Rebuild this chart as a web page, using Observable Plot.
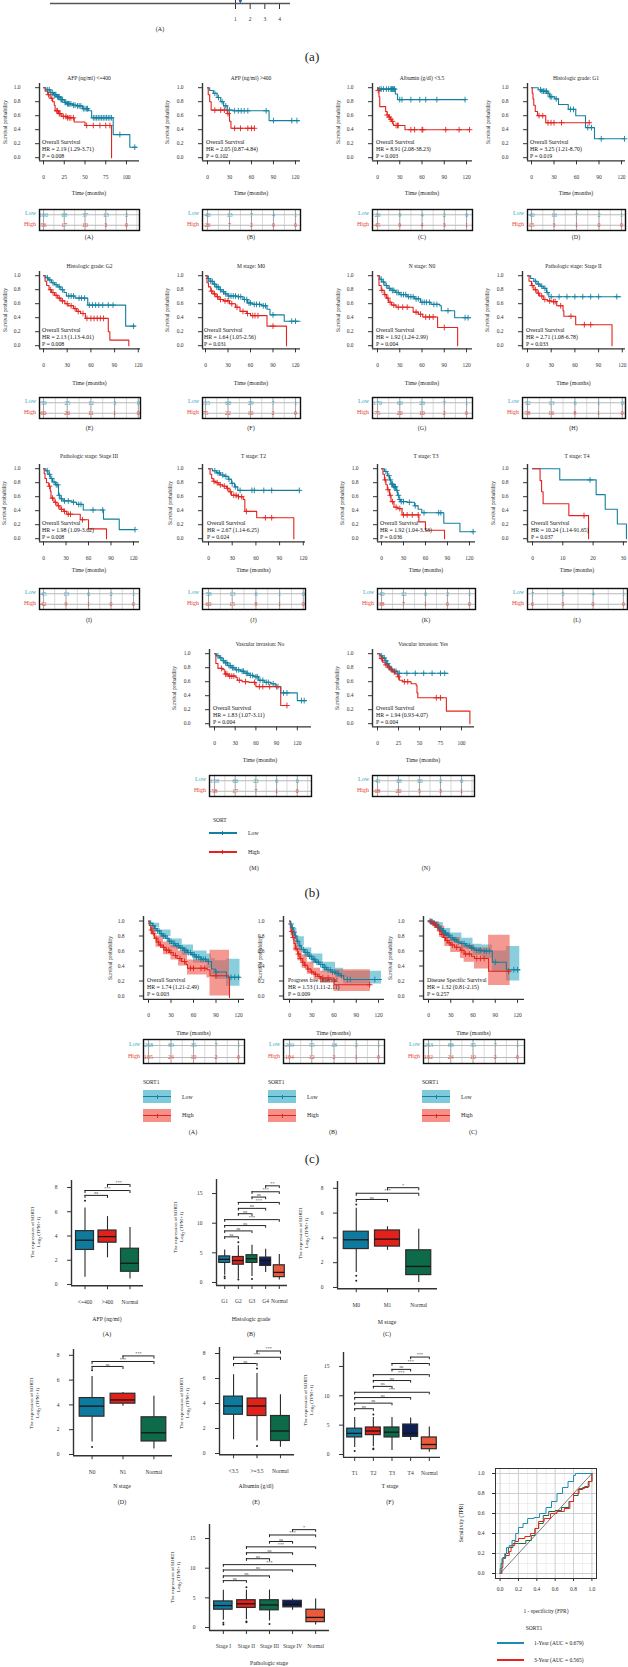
<!DOCTYPE html>
<html><head><meta charset="utf-8">
<script src="https://cdn.jsdelivr.net/npm/d3@7"></script>
<script src="https://cdn.jsdelivr.net/npm/@observablehq/plot@0.6"></script>
<style>
html,body{margin:0;padding:0;background:#fff;}
#root{position:relative;width:628px;height:1667px;overflow:hidden;background:#fff;font-family:"Liberation Serif","Times New Roman",serif;color:#222;}
#root svg{overflow:visible;}
</style></head><body><div id="root"></div>
<script>
// ================= DATA =================
// (a) remnant of forest plot axis
const a_ticks = [1, 2, 3, 4];
const a_est = [[1.33, 1]];

const tick25 = [0, 25, 50, 75, 100];
const tick30 = [0, 30, 60, 90, 120];
const tick10 = [0, 10, 20, 30];

// (b) Kaplan-Meier subgroup panels: [time, survival] steps, censor times, risk tables
const bA_low = [[0,1],[3,0.97],[8,0.93],[12,0.9],[16,0.87],[20,0.83],[25,0.79],[28,0.77],[35,0.75],[40,0.74],[47,0.7],[54,0.67],[58,0.57],[84,0.33],[104,0.15],[112,0.15]];
const bA_high = [[0,1],[2,0.95],[5,0.9],[8,0.85],[11,0.8],[13,0.75],[14,0.67],[18,0.63],[22,0.59],[28,0.57],[37,0.51],[50,0.46],[82,0]];
const bA_lowC = [5,7,9,11,13,14,15,17,18,19,21,22,23,26,27,29,30,31,33,36,38,41,43,45,48,50,52,53,60,62,64,66,68,70,72,74,76,78,80,82,92,110];
const bA_highC = [6,10,16,17,19,20,24,27,29,31,33,36,52,60,68,75,80];
const bA_riskLow = [160,68,37,13,2], bA_riskHigh = [56,17,10,3,0];

const bB_low = [[0,1],[3,0.96],[8,0.92],[13,0.86],[18,0.8],[22,0.74],[27,0.68],[35,0.67],[84,0.53],[125,0.53]];
const bB_high = [[0,1],[1,0.9],[3,0.8],[5,0.68],[27,0.63],[30,0.52],[32,0.42],[64,0.42]];
const bB_lowC = [10,15,20,25,30,37,42,46,50,55,80,90,115,122];
const bB_highC = [10,18,23,28,37,45,55,60,64];
const bB_riskLow = [40,13,7,4,1], bB_riskHigh = [26,7,2,0,0];

const bC_low = [[0,1],[1,0.98],[24,0.91],[27,0.83],[119,0.83]];
const bC_high = [[0,1],[0.5,0.96],[2,0.87],[3,0.73],[11,0.66],[13,0.61],[15,0.58],[17,0.55],[19,0.52],[21,0.48],[22,0.46],[37,0.4],[124,0.4]];
const bC_lowC = [3,5,8,12,15,18,19,20,21,22,23,30,33,45,57,65,80,118];
const bC_highC = [1,13,16,18,20,25,27,28,45,50,60,61,92,110,124];
const bC_riskLow = [26,9,4,2,0], bC_riskHigh = [45,9,4,3,1];

const bD_low = [[0,1],[9,0.97],[13,0.95],[22,0.92],[24,0.87],[31,0.84],[36,0.76],[49,0.69],[59,0.6],[72,0.43],[84,0.27],[124,0.27]];
const bD_high = [[0,1],[1,0.92],[2,0.84],[3,0.75],[5,0.66],[8,0.6],[19,0.5],[77,0.5]];
const bD_lowC = [12,14,16,18,20,22,25,27,33,52,56,75,80,93,124];
const bD_highC = [10,15,22,26,30,40,77];
const bD_riskLow = [40,16,7,2,1], bD_riskHigh = [15,3,1,0,0];

const bE_low = [[0,1],[3,0.97],[6,0.94],[10,0.9],[14,0.87],[18,0.84],[22,0.8],[26,0.76],[29,0.71],[40,0.68],[56,0.58],[104,0.28],[116,0.28]];
const bE_high = [[0,1],[2,0.92],[4,0.86],[7,0.8],[10,0.76],[14,0.72],[18,0.68],[22,0.64],[27,0.6],[31,0.57],[38,0.53],[42,0.49],[47,0.46],[53,0.39],[82,0.2],[84,0.08],[108,0]];
const bE_lowC = [5,8,12,16,20,24,32,35,38,45,48,52,58,62,66,70,75,82,88,114];
const bE_highC = [9,12,16,20,24,30,35,40,44,50,55,60,64,68,72,76];
const bE_riskLow = [59,25,12,3,0], bE_riskHigh = [60,26,11,1,0];

const bF_low = [[0,1],[3,0.96],[6,0.92],[10,0.88],[14,0.84],[18,0.8],[22,0.77],[26,0.74],[30,0.71],[42,0.7],[50,0.66],[56,0.61],[63,0.59],[75,0.57],[82,0.52],[86,0.44],[105,0.35],[126,0.35]];
const bF_high = [[0,1],[2,0.9],[4,0.84],[7,0.78],[10,0.74],[14,0.7],[18,0.66],[24,0.64],[32,0.6],[40,0.55],[46,0.49],[55,0.46],[60,0.43],[82,0.28],[108,0]];
const bF_lowC = [4,7,9,12,15,17,20,24,27,31,34,37,40,44,47,52,55,58,60,65,68,72,77,80,90,115,120];
const bF_highC = [8,12,16,20,26,30,35,42,50,56,63,66,70,90];
const bF_riskLow = [155,68,29,7,1], bF_riskHigh = [75,22,10,2,0];

const bG_low = [[0,1],[3,0.95],[6,0.91],[10,0.86],[14,0.82],[18,0.79],[24,0.76],[30,0.73],[40,0.7],[50,0.67],[58,0.62],[72,0.59],[84,0.57],[86,0.5],[104,0.4],[125,0.4]];
const bG_high = [[0,1],[2,0.86],[5,0.79],[9,0.73],[12,0.68],[15,0.62],[19,0.58],[25,0.55],[48,0.48],[55,0.45],[61,0.41],[81,0.26],[108,0]];
const bG_lowC = [5,8,12,16,20,22,26,28,32,35,38,42,45,48,52,55,60,63,66,70,76,80,95,118,122];
const bG_highC = [6,10,14,17,22,28,34,40,52,58,65,70,75,90];
const bG_riskLow = [170,60,26,7,1], bG_riskHigh = [75,20,10,2,0];

const bH_low = [[0,1],[4,0.96],[8,0.92],[12,0.88],[16,0.85],[20,0.82],[24,0.76],[27,0.7],[118,0.7]];
const bH_high = [[0,1],[2,0.92],[5,0.86],[8,0.8],[12,0.75],[15,0.71],[20,0.66],[25,0.64],[30,0.63],[37,0.57],[45,0.5],[46,0.42],[61,0.3],[107,0]];
const bH_lowC = [10,14,18,22,25,30,40,50,60,70,80,90,113];
const bH_highC = [6,10,14,18,22,28,33,35,42,55,72,80];
const bH_riskLow = [32,13,6,1,0], bH_riskHigh = [58,16,8,1,0];

const bI_low = [[0,1],[3,0.97],[6,0.92],[9,0.86],[12,0.81],[16,0.77],[20,0.62],[22,0.57],[26,0.54],[38,0.52],[44,0.49],[53,0.41],[80,0.28],[101,0.13],[122,0.13]];
const bI_high = [[0,1],[1,0.93],[2,0.86],[4,0.8],[7,0.75],[9,0.68],[10,0.58],[14,0.52],[18,0.47],[22,0.42],[27,0.39],[31,0.35],[49,0.27],[60,0.14],[84,0]];
const bI_lowC = [5,8,11,14,17,19,21,24,28,33,40,47,50,66,79,122];
const bI_highC = [8,12,16,20,24,28,33,36,52];
const bI_riskLow = [45,13,6,2,1], bI_riskHigh = [42,9,1,0,0];

const bJ_low = [[0,1],[5,0.97],[10,0.94],[15,0.91],[20,0.89],[25,0.85],[29,0.79],[33,0.74],[37,0.69],[115,0.69]];
const bJ_high = [[0,1],[2,0.92],[4,0.86],[6,0.82],[9,0.8],[13,0.77],[18,0.75],[23,0.72],[26,0.67],[29,0.62],[38,0.6],[44,0.56],[46,0.39],[61,0.3],[108,0]];
const bJ_lowC = [8,12,14,18,22,26,30,34,40,55,58,70,80,115];
const bJ_highC = [7,11,15,20,24,28,32,35,38,42,48,72,80];
const bJ_riskLow = [58,13,6,1,0], bJ_riskHigh = [60,15,8,1,0];

const bK_low = [[0,1],[4,0.96],[8,0.9],[11,0.84],[13,0.78],[16,0.74],[20,0.69],[22,0.62],[24,0.56],[26,0.53],[35,0.52],[45,0.47],[50,0.42],[55,0.37],[85,0.22],[107,0.1],[126,0.1]];
const bK_high = [[0,1],[2,0.92],[4,0.84],[6,0.77],[8,0.7],[11,0.62],[13,0.53],[17,0.45],[22,0.43],[28,0.34],[51,0.24],[60,0.12],[86,0]];
const bK_lowC = [6,10,12,14,15,17,18,19,21,23,25,27,30,38,46,58,78,81,125];
const bK_highC = [5,9,12,15,20,25,30,35,42,50];
const bK_riskLow = [40,12,6,2,1], bK_riskHigh = [38,7,1,0,0];

const bL_low = [[0,1],[9,0.84],[21,0.63],[24,0.42],[28,0.21],[31,0]];
const bL_high = [[0,1],[2.5,0.83],[3,0.67],[3.5,0.5],[12,0.33],[18.5,0]];
const bL_lowC = [19];
const bL_highC = [17];
const bL_riskLow = [7,5,4,1], bL_riskHigh = [6,3,0,0];

const bM_low = [[0,1],[3,0.97],[7,0.94],[11,0.9],[15,0.87],[19,0.83],[24,0.8],[30,0.77],[38,0.75],[44,0.72],[50,0.69],[57,0.67],[64,0.62],[72,0.59],[82,0.57],[88,0.53],[96,0.44],[120,0.33],[133,0.33]];
const bM_high = [[0,1],[2,0.86],[5,0.79],[12,0.77],[15,0.71],[20,0.68],[31,0.66],[33,0.62],[40,0.6],[50,0.59],[60,0.53],[96,0.26],[105,0.26]];
const bM_lowC = [5,9,13,16,18,21,23,26,28,32,35,40,42,46,48,52,55,60,62,66,70,75,78,85,92,100,105,126,130];
const bM_highC = [10,16,18,22,25,28,36,45,58,65,70,80,90,105];
const bM_riskLow = [158,66,21,6,0], bM_riskHigh = [58,17,7,1,0];

const bN_low = [[0,1],[3,0.97],[6,0.94],[9,0.9],[11,0.86],[13,0.82],[15,0.78],[18,0.75],[24,0.72],[84,0.72]];
const bN_high = [[0,1],[3,0.93],[6,0.88],[9,0.84],[12,0.8],[15,0.77],[18,0.74],[21,0.71],[24,0.67],[26,0.62],[30,0.6],[40,0.57],[46,0.55],[47,0.44],[48,0.37],[82,0.18],[110,0]];
const bN_lowC = [5,8,10,12,14,16,20,22,26,35,45,55,65,75,80];
const bN_highC = [5,10,14,17,20,25,32,36,70,75];
const bN_riskLow = [41,18,10,2,0], bN_riskHigh = [68,20,5,3,1];

const b_titles = ["AFP (ng/ml) <=400","AFP (ng/ml) >400","Albumin (g/dl) <3.5","Histologic grade: G1","Histologic grade: G2","M stage: M0","N stage: N0","Pathologic stage: Stage II","Pathologic stage: Stage III","T stage: T2","T stage: T3","T stage: T4","Vascular invasion: No","Vascular invasion: Yes"];
const b_hr = ["HR = 2.19 (1.29-3.71)","HR = 2.05 (0.87-4.84)","HR = 8.91 (2.08-38.23)","HR = 3.25 (1.21-8.70)","HR = 2.13 (1.13-4.01)","HR = 1.64 (1.05-2.56)","HR = 1.92 (1.24-2.99)","HR = 2.71 (1.08-6.78)","HR = 1.98 (1.09-3.62)","HR = 2.67 (1.14-6.25)","HR = 1.92 (1.04-3.53)","HR = 10.24 (1.14-91.65)","HR = 1.83 (1.07-3.11)","HR = 1.94 (0.93-4.07)"];
const b_p = ["P = 0.008","P = 0.102","P = 0.003","P = 0.019","P = 0.008","P = 0.031","P = 0.004","P = 0.033","P = 0.008","P = 0.024","P = 0.036","P = 0.037","P = 0.004","P = 0.004"];
const b_letters = ["(A)","(B)","(C)","(D)","(E)","(F)","(G)","(H)","(I)","(J)","(K)","(L)","(M)","(N)"];

// (c) Overall / progression-free / disease-specific survival with confidence bands [t, lo, hi]
const cA_low = [[0,1],[2,0.97],[5,0.94],[8,0.9],[11,0.87],[15,0.83],[19,0.8],[23,0.77],[27,0.73],[31,0.7],[36,0.67],[41,0.64],[47,0.61],[52,0.58],[57,0.55],[62,0.52],[70,0.49],[78,0.46],[84,0.36],[89,0.32],[104,0.25],[122,0.25]];
const cA_high = [[0,1],[1,0.94],[3,0.88],[5,0.83],[8,0.77],[11,0.72],[14,0.68],[18,0.65],[22,0.61],[28,0.58],[33,0.54],[38,0.5],[44,0.46],[50,0.42],[52,0.37],[78,0.35],[82,0.27],[107,0.24],[108,-0.02]];
const cA_lowC = [3,6,9,12,14,17,20,22,25,28,30,33,35,38,40,43,45,48,50,53,56,59,61,64,67,70,73,76,80,90,110,115,120];
const cA_highC = [4,7,10,13,16,20,24,27,30,36,42,48,56,60,70,75,90];
const cA_lowBand = [[0,1,1],[5,0.91,0.97],[15,0.79,0.88],[30,0.64,0.76],[45,0.54,0.68],[60,0.44,0.6],[78,0.37,0.56],[84,0.25,0.5],[89,0.22,0.47],[104,0.13,0.49],[122,0.13,0.49]];
const cA_highBand = [[0,1,1],[3,0.82,0.94],[10,0.65,0.8],[20,0.55,0.72],[30,0.48,0.67],[40,0.4,0.6],[52,0.28,0.48],[78,0.24,0.47],[82,0,0.61],[108,0,0.61]];
const cA_riskLow = [268,89,35,7,1], cA_riskHigh = [105,24,10,2,0];

const cB_low = [[0,1],[1,0.96],[3,0.91],[5,0.85],[7,0.8],[10,0.73],[13,0.67],[16,0.62],[20,0.58],[25,0.53],[30,0.49],[35,0.45],[40,0.42],[45,0.38],[50,0.35],[56,0.32],[62,0.3],[68,0.27],[73,0.22],[124,0.22]];
const cB_high = [[0,1],[1,0.93],[2,0.86],[4,0.78],[6,0.7],[8,0.63],[11,0.56],[14,0.5],[17,0.45],[20,0.41],[24,0.36],[29,0.32],[33,0.29],[38,0.26],[42,0.24],[60,0.15],[109,0.15]];
const cB_lowC = [2,4,6,8,11,14,17,19,22,24,27,29,32,34,37,39,42,44,47,49,52,55,58,61,64,66,70,78,82,115];
const cB_highC = [3,5,9,12,15,18,21,25,30,35,40,45,52,108];
const cB_lowBand = [[0,1,1],[5,0.8,0.9],[10,0.67,0.79],[20,0.52,0.64],[30,0.43,0.56],[45,0.32,0.45],[62,0.24,0.37],[73,0.16,0.33],[124,0.16,0.33]];
const cB_highBand = [[0,1,1],[2,0.8,0.92],[6,0.6,0.78],[11,0.47,0.66],[17,0.37,0.55],[24,0.29,0.45],[33,0.22,0.37],[42,0.17,0.33],[60,0.06,0.35],[109,0.06,0.35]];
const cB_riskLow = [269,55,18,2,1], cB_riskHigh = [104,12,2,1,0];

const cC_low = [[0,1],[3,0.99],[6,0.97],[9,0.95],[12,0.92],[15,0.9],[18,0.87],[21,0.84],[24,0.81],[28,0.78],[33,0.75],[38,0.72],[43,0.7],[50,0.67],[56,0.64],[62,0.61],[72,0.6],[86,0.45],[105,0.35],[123,0.35]];
const cC_high = [[0,1],[2,0.99],[5,0.97],[8,0.95],[11,0.92],[14,0.87],[17,0.82],[20,0.78],[23,0.74],[26,0.71],[30,0.68],[35,0.65],[43,0.61],[48,0.56],[58,0.53],[62,0.5],[81,0.33],[110,0.33]];
const cC_lowC = [2,4,5,7,8,10,11,13,14,16,17,19,20,22,23,25,27,30,32,35,37,40,45,48,52,55,58,60,65,68,70,75,78,82,90,115,120];
const cC_highC = [3,6,9,12,15,18,22,25,28,32,38,45,50,55,65,70,75,108];
const cC_lowBand = [[0,1,1],[10,0.92,0.98],[20,0.8,0.9],[30,0.72,0.84],[45,0.63,0.77],[60,0.54,0.69],[72,0.5,0.68],[86,0.32,0.6],[105,0.2,0.66],[123,0.2,0.66]];
const cC_highBand = [[0,1,1],[8,0.9,0.99],[15,0.78,0.93],[22,0.66,0.84],[30,0.58,0.78],[43,0.5,0.72],[48,0.45,0.68],[62,0.36,0.64],[81,0.14,0.81],[110,0.14,0.81]];
const cC_riskLow = [263,88,35,7,1], cC_riskHigh = [102,24,10,2,0];

const c_names = ["Overall Survival","Progress free interval","Disease Specific Survival"];
const c_hr = ["HR = 1.74 (1.21-2.49)","HR = 1.53 (1.11-2.11)","HR = 1.32 (0.81-2.15)"];
const c_p = ["P = 0.003","P = 0.009","P = 0.257"];

// (d) boxplots: expression of SORT1, log2(TPM+1)
const dA_groups = ["<=400",">400","Normal"];
const dA_q1 = [2.85,3.45,1.05], dA_med = [3.65,3.95,1.75], dA_q3 = [4.4,4.45,2.95], dA_lo = [0.6,2.2,0.45], dA_hi = [6.3,5.6,4.7];
const dA_out = [[0,6.9]];
const dA_sig = [[0,1,7.35,"ns"],[0,2,7.75,"***"],[1,2,8.25,"***"]];

const dB_groups = ["G1","G2","G3","G4","Normal"];
const dB_q1 = [3.3,3.0,3.3,2.8,0.9], dB_med = [3.9,3.7,4.0,3.7,1.7], dB_q3 = [4.4,4.3,4.6,4.2,2.9], dB_lo = [1.2,0.6,1.0,1.7,0.4], dB_hi = [5.5,6.2,6.3,5.6,4.7];
const dB_out = [[0,0.7],[0,1.0],[1,6.8],[1,0.5],[2,0.6]];
const dB_sig = [[0,1,7.7,"ns"],[0,2,8.7,"ns"],[0,3,9.6,"ns"],[0,4,10.6,"***"],[1,2,11.6,"ns"],[1,3,12.5,"ns"],[1,4,13.5,"***"],[2,3,14.4,"ns"],[2,4,15.3,"***"],[3,4,16.3,"**"]];

const dC_groups = ["M0","M1","Normal"];
const dC_q1 = [3.1,3.3,1.0], dC_med = [3.85,3.9,1.7], dC_q3 = [4.5,4.6,3.0], dC_lo = [1.2,3.0,0.4], dC_hi = [6.4,4.9,4.7];
const dC_out = [[0,6.7],[0,0.95],[0,0.55]];
const dC_sig = [[0,1,7.1,"ns"],[0,2,7.6,"***"],[1,2,8.05,"*"]];

const dD_groups = ["N0","N1","Normal"];
const dD_q1 = [3.05,4.1,1.05], dD_med = [3.9,4.4,1.75], dD_q3 = [4.55,4.9,3.0], dD_lo = [1.0,3.9,0.45], dD_hi = [6.3,5.0,4.7];
const dD_out = [[0,0.6],[0,6.8]];
const dD_sig = [[0,1,7.1,"ns"],[0,2,7.5,"***"],[1,2,7.95,"***"]];

const dE_groups = ["<3.5",">=3.5","Normal"];
const dE_q1 = [3.1,3.0,1.0], dE_med = [3.8,3.8,1.8], dE_q3 = [4.55,4.4,3.0], dE_lo = [1.1,1.0,0.5], dE_hi = [6.3,6.4,4.7];
const dE_out = [[1,0.6],[1,6.8]];
const dE_sig = [[0,1,7.2,"ns"],[0,2,7.7,"***"],[1,2,8.2,"***"]];

const dF_groups = ["T1","T2","T3","T4","Normal"];
const dF_q1 = [2.9,3.3,2.9,3.0,0.9], dF_med = [3.6,4.0,3.8,3.6,1.7], dF_q3 = [4.4,4.6,4.6,5.1,2.9], dF_lo = [1.2,1.3,0.7,2.4,0.4], dF_hi = [6.3,6.3,6.3,6.2,4.7];
const dF_out = [[0,0.6],[1,6.8],[1,1.0],[1,0.9]];
const dF_sig = [[0,1,7.8,"ns"],[0,2,8.75,"ns"],[0,3,9.7,"ns"],[0,4,10.6,"***"],[1,2,11.6,"ns"],[1,3,12.6,"ns"],[1,4,13.6,"***"],[2,3,14.5,"ns"],[2,4,15.5,"***"],[3,4,16.6,"***"]];

const dG_groups = ["Stage I","Stage II","Stage III","Stage IV","Normal"];
const dG_q1 = [3.0,3.3,2.9,3.4,0.9], dG_med = [3.7,4.0,3.8,3.9,1.7], dG_q3 = [4.4,4.6,4.6,4.5,3.0], dG_lo = [1.2,1.3,1.1,2.9,0.4], dG_hi = [6.3,6.3,6.3,4.8,4.8];
const dG_out = [[0,0.8],[0,0.5],[1,6.8],[1,1.0],[1,0.9],[2,0.6]];
const dG_sig = [[0,1,7.9,"ns"],[0,2,8.7,"ns"],[0,3,9.7,"ns"],[0,4,10.6,"***"],[1,2,11.6,"ns"],[1,3,12.6,"ns"],[1,4,13.6,"***"],[2,3,14.5,"ns"],[2,4,15.6,"***"],[3,4,16.5,"*"]];

// ROC curves [FPR, TPR]
const roc1 = [[0,0],[0,0.05],[0.02,0.08],[0.02,0.15],[0.05,0.2],[0.07,0.26],[0.1,0.28],[0.13,0.33],[0.17,0.4],[0.2,0.46],[0.25,0.5],[0.3,0.55],[0.37,0.56],[0.43,0.6],[0.5,0.66],[0.56,0.72],[0.62,0.8],[0.68,0.86],[0.74,0.92],[0.8,0.98],[0.82,1],[1,1]];
const roc3 = [[0,0],[0.02,0.06],[0.03,0.15],[0.06,0.18],[0.1,0.22],[0.12,0.28],[0.16,0.32],[0.2,0.35],[0.27,0.37],[0.33,0.4],[0.38,0.45],[0.42,0.52],[0.48,0.55],[0.55,0.6],[0.62,0.62],[0.7,0.65],[0.76,0.72],[0.8,0.8],[0.86,0.85],[0.92,0.87],[0.97,0.92],[1,1]];
const roc5 = [[0,0],[0.01,0.1],[0.03,0.16],[0.06,0.2],[0.09,0.26],[0.14,0.3],[0.2,0.3],[0.28,0.33],[0.34,0.38],[0.38,0.45],[0.42,0.5],[0.47,0.58],[0.53,0.62],[0.6,0.63],[0.67,0.66],[0.75,0.72],[0.8,0.78],[0.85,0.84],[0.9,0.86],[0.96,0.92],[1,1]];
const roc_labels = ["1-Year (AUC = 0.679)","3-Year (AUC = 0.565)"];
const roc_ticks = [0,0.2,0.4,0.6,0.8,1];

// ================= DRAWING =================
const FONT = '"Liberation Serif","Times New Roman",serif';
const LOW = '#13809f', HIGH = '#e3231d', LOWT = '#3aa6bf', HIGHT = '#e63d35';
const LOWF = '#3aaec6', HIGHF = '#ef5348', AX = '#333';
const BOXC = {blue:'#0e7a9e', red:'#e3211b', green:'#0d6b4a', navy:'#0c1f56', orange:'#ec5a3c'};
const root = document.getElementById('root');
const S = {fontFamily: FONT, fontSize: '5.5px', background: 'transparent', overflow: 'visible', color: '#333'};

function place(el, x, y) { el.style.position = 'absolute'; el.style.left = x + 'px'; el.style.top = y + 'px'; root.appendChild(el); return el; }
function txt(s, x, y, o = {}) {
  const d = document.createElement('div');
  d.innerHTML = s;
  d.style.cssText = `position:absolute;left:${x}px;top:${y}px;white-space:nowrap;font-size:${o.size || 5.5}px;line-height:1.2;color:${o.color || '#222'};font-weight:${o.bold ? 'bold' : 'normal'};text-align:center;`;
  let tr = o.anchor === 'start' ? 'translate(0,-50%)' : o.anchor === 'end' ? 'translate(-100%,-50%)' : 'translate(-50%,-50%)';
  if (o.rot) tr += ' rotate(-90deg)';
  d.style.transform = tr;
  root.appendChild(d); return d;
}
function bar(x, y, w, h, color, op = 1) {
  const d = document.createElement('div');
  d.style.cssText = `position:absolute;left:${x}px;top:${y}px;width:${w}px;height:${h}px;background:${color};opacity:${op};`;
  root.appendChild(d); return d;
}
function survAt(steps, t) { let s = steps[0][1]; for (const [x, y] of steps) { if (x <= t) s = y; else break; } return s; }

// ---- (a) remnant ----
{
  const ppu = 14.667, d0 = 1 - (235 - 45) / ppu, d1 = 4 + (295 - 279) / ppu;
  const svg = Plot.plot({width: 250, height: 30, marginLeft: 0, marginRight: 0, marginTop: 0, marginBottom: 27, style: S,
    x: {domain: [d0, d1], ticks: a_ticks, tickFormat: d => String(d), tickSize: 6, tickPadding: 8, label: null},
    y: {domain: [0, 1], axis: null},
    marks: [
      Plot.ruleX([1], {stroke: '#333', strokeWidth: 1}),
      Plot.ruleY([0], {x1: d0 + 5 / ppu, x2: 4 + 11 / ppu, stroke: '#555', strokeWidth: 1.6}),
      Plot.dot(a_est, {x: d => d[0], y: d => d[1], r: 1.8, fill: '#2166ac', symbol: 'diamond'})
    ]});
  place(svg, 45, 0);
  txt('(A)', 160, 30, {size: 6});
  txt('(a)', 312, 57, {size: 13});
}

// ---- KM panel ----
function kmPlot(g, d) {
  const mL = 34, mR = 4, mT = 3, mB = 26;
  const tmin = -(g.t0 - g.L) / g.ppm, tmax = (g.R - g.t0) / g.ppm;
  const pu = g.y0 - g.y1, ylo = -0.045, yhi = 1.06;
  const T = g.y1 - (yhi - 1) * pu, B = g.y0 - ylo * pu;
  const W = (g.R - g.L) + mL + mR, H = (B - T) + mT + mB;
  const marks = [];
  if (d.lowBand) marks.push(Plot.areaY(d.lowBand, {x: r => r[0], y1: r => r[1], y2: r => r[2], curve: 'step-after', fill: LOWF, fillOpacity: 0.6}));
  if (d.highBand) marks.push(Plot.areaY(d.highBand, {x: r => r[0], y1: r => r[1], y2: r => r[2], curve: 'step-after', fill: HIGHF, fillOpacity: 0.6}));
  marks.push(Plot.ruleX([tmin], {stroke: AX, strokeWidth: 1.4}), Plot.ruleY([ylo], {stroke: AX, strokeWidth: 1.4}));
  marks.push(Plot.line(d.low, {x: r => r[0], y: r => r[1], curve: 'step-after', stroke: LOW, strokeWidth: 1.1}));
  marks.push(Plot.line(d.high, {x: r => r[0], y: r => r[1], curve: 'step-after', stroke: HIGH, strokeWidth: 1.1}));
  marks.push(Plot.dot(d.lowC, {x: t => t, y: t => survAt(d.low, t), symbol: 'plus', r: 2, stroke: LOW, fill: 'none', strokeWidth: 0.9}));
  marks.push(Plot.dot(d.highC, {x: t => t, y: t => survAt(d.high, t), symbol: 'plus', r: 2, stroke: HIGH, fill: 'none', strokeWidth: 0.9}));
  const svg = Plot.plot({width: W, height: H, marginLeft: mL, marginRight: mR, marginTop: mT, marginBottom: mB, style: S,
    x: {domain: [tmin, tmax], ticks: d.ticks, tickFormat: v => String(v), tickSize: 4, tickPadding: 10, label: null},
    y: {domain: [ylo, yhi], ticks: [0, 0.2, 0.4, 0.6, 0.8, 1], tickFormat: d3.format('.1f'), tickSize: 4, tickPadding: 15, label: null},
    marks});
  place(svg, g.L - mL, T - mT);
  // risk table
  const rW = g.R - g.L, rH = g.tb - g.tt;
  const step = d.ticks[1] - d.ticks[0];
  const mids = [];
  for (let v = d.ticks[0] - step / 2; v < tmax; v += step) if (v > tmin) mids.push(v);
  const tab = Plot.plot({width: rW + 4, height: rH + 4, marginLeft: 2, marginRight: 2, marginTop: 2, marginBottom: 2, style: S,
    x: {domain: [tmin, tmax], axis: null}, y: {domain: [0, 2], axis: null},
    marks: [
      Plot.ruleX(mids, {stroke: '#cfcfcf', strokeWidth: 0.8}),
      Plot.ruleX(d.ticks, {stroke: '#a9a9a9', strokeWidth: 1.1}),
      Plot.ruleY([0.5, 1.5], {stroke: '#b8b8b8', strokeWidth: 1}),
      Plot.text(d.riskLow.map((v, i) => [d.ticks[i], v]), {x: r => r[0], y: () => 1.5, text: r => String(r[1]), fill: LOWT, fontSize: 6}),
      Plot.text(d.riskHigh.map((v, i) => [d.ticks[i], v]), {x: r => r[0], y: () => 0.5, text: r => String(r[1]), fill: HIGHT, fontSize: 6}),
      Plot.frame({stroke: '#111', strokeWidth: 1.4})
    ]});
  place(tab, g.L - 2, g.tt - 2);
  txt('Low', g.L - 3, g.tt + rH * 0.25, {anchor: 'end', color: LOWT, size: 6});
  txt('High', g.L - 3, g.tt + rH * 0.75, {anchor: 'end', color: HIGHT, size: 6});
  // texts
  const cx = (g.L + g.R) / 2;
  if (d.title) txt(d.title, cx, g.title, {size: 5.5});
  txt('Survival probability', g.yl, (g.y1 + g.y0) / 2, {rot: true, size: 5.5});
  txt('Time (months)', cx, g.time, {size: 5.8});
  txt(d.name, g.t0 - 1, g.y0 - 15, {anchor: 'start', size: 5.8, color: '#111'});
  txt(d.hr, g.t0 - 1, g.y0 - 8, {anchor: 'start', size: 5.8, color: '#111'});
  txt(d.p, g.t0 - 1, g.y0 - 1, {anchor: 'start', size: 5.8, color: '#111'});
  txt(d.letter, d.letterX || cx, g.letter, {size: 6});
}

const rows = [
  {y1: 87, y0: 157, tt: 209, tb: 230, title: 78, time: 193, letter: 238},
  {y1: 275, y0: 345, tt: 397, tb: 418, title: 266, time: 383, letter: 429},
  {y1: 468, y0: 538, tt: 588, tb: 609, title: 456, time: 570, letter: 621},
  {y1: 653, y0: 723, tt: 775, tb: 796, title: 644, time: 760, letter: 869}
];
const bPanels = [
  [bA_low, bA_high, bA_lowC, bA_highC, bA_riskLow, bA_riskHigh, tick25, {L: 39, t0: 43, ppm: 0.83, R: 139, row: 0, yl: 5}],
  [bB_low, bB_high, bB_lowC, bB_highC, bB_riskLow, bB_riskHigh, tick30, {L: 202, t0: 207, ppm: 0.733, R: 300, row: 0, yl: 167}],
  [bC_low, bC_high, bC_lowC, bC_highC, bC_riskLow, bC_riskHigh, tick30, {L: 372, t0: 377, ppm: 0.742, R: 472, row: 0, yl: 338}],
  [bD_low, bD_high, bD_lowC, bD_highC, bD_riskLow, bD_riskHigh, tick30, {L: 527, t0: 531, ppm: 0.75, R: 625, row: 0, yl: 488}],
  [bE_low, bE_high, bE_lowC, bE_highC, bE_riskLow, bE_riskHigh, tick30, {L: 39, t0: 43, ppm: 0.79, R: 140, row: 1, yl: 5}],
  [bF_low, bF_high, bF_lowC, bF_highC, bF_riskLow, bF_riskHigh, tick30, {L: 202, t0: 205, ppm: 0.75, R: 300, row: 1, yl: 167}],
  [bG_low, bG_high, bG_lowC, bG_highC, bG_riskLow, bG_riskHigh, tick30, {L: 372, t0: 377, ppm: 0.742, R: 472, row: 1, yl: 338}],
  [bH_low, bH_high, bH_lowC, bH_highC, bH_riskLow, bH_riskHigh, tick30, {L: 522, t0: 527, ppm: 0.79, R: 625, row: 1, yl: 487}],
  [bI_low, bI_high, bI_lowC, bI_highC, bI_riskLow, bI_riskHigh, tick30, {L: 39, t0: 43, ppm: 0.75, R: 139, row: 2, yl: 4}],
  [bJ_low, bJ_high, bJ_lowC, bJ_highC, bJ_riskLow, bJ_riskHigh, tick30, {L: 202, t0: 208, ppm: 0.79, R: 305, row: 2, yl: 170}],
  [bK_low, bK_high, bK_lowC, bK_highC, bK_riskLow, bK_riskHigh, tick30, {L: 377, t0: 381, ppm: 0.733, R: 475, row: 2, yl: 342}],
  [bL_low, bL_high, bL_lowC, bL_highC, bL_riskLow, bL_riskHigh, tick10, {L: 527, t0: 532, ppm: 3.03, R: 627, row: 2, yl: 493}],
  [bM_low, bM_high, bM_lowC, bM_highC, bM_riskLow, bM_riskHigh, tick30, {L: 209, t0: 214, ppm: 0.69, R: 311, row: 3, yl: 174}],
  [bN_low, bN_high, bN_lowC, bN_highC, bN_riskLow, bN_riskHigh, tick25, {L: 372, t0: 377, ppm: 0.84, R: 474, row: 3, yl: 337}]
];
bPanels.forEach((p, i) => {
  const g = Object.assign({}, rows[p[7].row], p[7]);
  kmPlot(g, {low: p[0], high: p[1], lowC: p[2], highC: p[3], riskLow: p[4], riskHigh: p[5], ticks: p[6],
    title: b_titles[i], name: 'Overall Survival', hr: b_hr[i], p: b_p[i], letter: b_letters[i],
    letterX: i === 12 ? 254 : i === 13 ? 426 : null});
});
// (b) legend
txt('SORT', 213, 820, {anchor: 'start', size: 5.5});
bar(209, 832.4, 28, 1.3, LOW); bar(222.4, 831, 1, 4, LOW);
txt('Low', 248, 833, {anchor: 'start', size: 5.8});
bar(209, 851.4, 28, 1.3, HIGH); bar(222.4, 850, 1, 4, HIGH);
txt('High', 248, 852, {anchor: 'start', size: 5.8});
txt('(b)', 312, 893, {size: 13});

// ---- (c) ----
const cRow = {y1: 920, y0: 995, tt: 1039, tb: 1063, time: 1033, letter: 1133};
const cPanels = [
  [cA_low, cA_high, cA_lowC, cA_highC, cA_lowBand, cA_highBand, cA_riskLow, cA_riskHigh, {L: 143, t0: 148, ppm: 0.75, R: 244, yl: 110}, '(A)', 193],
  [cB_low, cB_high, cB_lowC, cB_highC, cB_lowBand, cB_highBand, cB_riskLow, cB_riskHigh, {L: 283, t0: 289, ppm: 0.742, R: 384, yl: 260}, '(B)', 333],
  [cC_low, cC_high, cC_lowC, cC_highC, cC_lowBand, cC_highBand, cC_riskLow, cC_riskHigh, {L: 423, t0: 428, ppm: 0.742, R: 524, yl: 390}, '(C)', 473]
];
const cLegX = [143, 268, 422];
cPanels.forEach((p, i) => {
  const g = Object.assign({}, cRow, p[8]);
  kmPlot(g, {low: p[0], high: p[1], lowC: p[2], highC: p[3], lowBand: p[4], highBand: p[5], riskLow: p[6], riskHigh: p[7], ticks: tick30,
    title: null, name: c_names[i], hr: c_hr[i], p: c_p[i], letter: p[9], letterX: p[10]});
  const x0 = cLegX[i];
  txt('SORT1', x0, 1082, {anchor: 'start', size: 5.5});
  bar(x0, 1090, 28, 13, LOWF, 0.65); bar(x0, 1096, 28, 1.3, LOW); bar(x0 + 13.5, 1094.5, 1, 4, LOW);
  txt('Low', x0 + 39, 1097, {anchor: 'start', size: 5.8});
  bar(x0, 1109, 28, 13, HIGHF, 0.65); bar(x0, 1115, 28, 1.3, HIGH); bar(x0 + 13.5, 1113.5, 1, 4, HIGH);
  txt('High', x0 + 39, 1115, {anchor: 'start', size: 5.8});
});
txt('(c)', 312, 1159, {size: 13});

// ---- (d) boxplots ----
function boxPlot(c) {
  const n = c.groups.length, idx = d3.range(n);
  const ymax = (c.px0 - c.pxTop) / c.ppu;
  const B = c.px0 - c.ymin * c.ppu;
  const mL = 26, mR = 3, mT = 3, mB = 18;
  const W = c.R - c.L + mL + mR, H = B - c.pxTop + mT + mB;
  const hw = 0.4;
  const svg = Plot.plot({width: W, height: H, marginLeft: mL, marginRight: mR, marginTop: mT, marginBottom: mB, style: S,
    color: {type: 'identity'},
    x: {domain: [-0.6, n - 0.4], ticks: idx, tickFormat: i => c.groups[i], tickSize: 4, tickPadding: 10, label: null},
    y: {domain: [c.ymin, ymax], ticks: c.yticks, tickFormat: v => String(v), tickSize: 4, tickPadding: 10, label: null},
    marks: [
      Plot.ruleX([-0.6], {stroke: AX, strokeWidth: 1.4}),
      Plot.ruleY([c.ymin], {stroke: AX, strokeWidth: 1.4}),
      Plot.ruleY(c.sig, {y: r => r[2], x1: r => r[0], x2: r => r[1], stroke: '#222', strokeWidth: 1}),
      Plot.ruleX(c.sig, {x: r => r[0], y1: r => r[2], y2: r => r[2] - c.drop, stroke: '#222', strokeWidth: 1}),
      Plot.ruleX(c.sig, {x: r => r[1], y1: r => r[2], y2: r => r[2] - c.drop, stroke: '#222', strokeWidth: 1}),
      Plot.text(c.sig, {x: r => (r[0] + r[1]) / 2, y: r => r[2], text: r => r[3], dy: -2.3, fontSize: 4.3, fill: '#333'}),
      Plot.ruleX(idx, {x: i => i, y1: i => c.lo[i], y2: i => c.q1[i], stroke: '#2a2a2a', strokeWidth: 1.1}),
      Plot.ruleX(idx, {x: i => i, y1: i => c.q3[i], y2: i => c.hi[i], stroke: '#2a2a2a', strokeWidth: 1.1}),
      Plot.rect(idx, {x1: i => i - hw, x2: i => i + hw, y1: i => c.q1[i], y2: i => c.q3[i], fill: i => c.cols[i], stroke: '#2b2b2b', strokeWidth: 1.2}),
      Plot.ruleY(idx, {y: i => c.med[i], x1: i => i - hw, x2: i => i + hw, stroke: '#151515', strokeWidth: 1.3}),
      Plot.dot(c.out, {x: r => r[0], y: r => r[1], r: 1, fill: '#222'})
    ]});
  place(svg, c.L - mL, c.pxTop - mT);
  txt('The expression of SORT1<br>Log<sub style="font-size:4px">2</sub> (TPM+1)', c.ylx, c.yly, {rot: true, size: 5});
  txt(c.xtitle, c.tx, c.ty, {size: 5.8});
  if (c.letter) txt(c.letter, c.tx, c.ly, {size: 6});
}
const C3 = [BOXC.blue, BOXC.red, BOXC.green], C5 = [BOXC.blue, BOXC.red, BOXC.green, BOXC.navy, BOXC.orange];
boxPlot({groups: dA_groups, q1: dA_q1, med: dA_med, q3: dA_q3, lo: dA_lo, hi: dA_hi, out: dA_out, sig: dA_sig, cols: C3,
  L: 71, R: 143, px0: 1284, pxTop: 1180, ppu: 12.125, ymin: -0.1, yticks: [0, 2, 4, 6, 8], drop: 0.25,
  ylx: 36.5, yly: 1232, xtitle: 'AFP (ng/ml)', tx: 107, ty: 1319, letter: '(A)', ly: 1335});
boxPlot({groups: dB_groups, q1: dB_q1, med: dB_med, q3: dB_q3, lo: dB_lo, hi: dB_hi, out: dB_out, sig: dB_sig, cols: C5,
  L: 216, R: 287, px0: 1282, pxTop: 1179, ppu: 5.93, ymin: -0.5, yticks: [0, 5, 10, 15], drop: 0.45,
  ylx: 180, yly: 1227, xtitle: 'Histologic grade', tx: 251, ty: 1319, letter: '(B)', ly: 1335});
boxPlot({groups: dC_groups, q1: dC_q1, med: dC_med, q3: dC_q3, lo: dC_lo, hi: dC_hi, out: dC_out, sig: dC_sig, cols: C3,
  L: 337, R: 437, px0: 1287, pxTop: 1181, ppu: 12.4, ymin: -0.1, yticks: [0, 2, 4, 6, 8], drop: 0.25,
  ylx: 305, yly: 1233, xtitle: 'M stage', tx: 387, ty: 1322, letter: '(C)', ly: 1335});
boxPlot({groups: dD_groups, q1: dD_q1, med: dD_med, q3: dD_q3, lo: dD_lo, hi: dD_hi, out: dD_out, sig: dD_sig, cols: C3,
  L: 73, R: 172, px0: 1454, pxTop: 1349, ppu: 12.4, ymin: -0.1, yticks: [0, 2, 4, 6, 8], drop: 0.25,
  ylx: 36, yly: 1403, xtitle: 'N stage', tx: 122, ty: 1486, letter: '(D)', ly: 1503});
boxPlot({groups: dE_groups, q1: dE_q1, med: dE_med, q3: dE_q3, lo: dE_lo, hi: dE_hi, out: dE_out, sig: dE_sig, cols: C3,
  L: 219, R: 294, px0: 1453, pxTop: 1347, ppu: 12.5, ymin: -0.1, yticks: [0, 2, 4, 6, 8], drop: 0.25,
  ylx: 186, yly: 1403, xtitle: 'Albumin (g/dl)', tx: 256, ty: 1486, letter: '(E)', ly: 1503});
boxPlot({groups: dF_groups, q1: dF_q1, med: dF_med, q3: dF_q3, lo: dF_lo, hi: dF_hi, out: dF_out, sig: dF_sig, cols: C5,
  L: 343, R: 440, px0: 1454, pxTop: 1352, ppu: 5.87, ymin: -0.5, yticks: [0, 5, 10, 15], drop: 0.45,
  ylx: 310, yly: 1400, xtitle: 'T stage', tx: 390, ty: 1486, letter: '(F)', ly: 1503});
boxPlot({groups: dG_groups, q1: dG_q1, med: dG_med, q3: dG_q3, lo: dG_lo, hi: dG_hi, out: dG_out, sig: dG_sig, cols: C5,
  L: 209, R: 329, px0: 1627, pxTop: 1524, ppu: 5.93, ymin: -0.5, yticks: [0, 5, 10, 15], drop: 0.45,
  ylx: 177, yly: 1577, xtitle: 'Pathologic stage', tx: 269, ty: 1663, letter: null});

// ---- ROC ----
{
  const L = 495, R = 596, T = 1468, B = 1578;
  const mL = 20, mR = 3, mT = 2, mB = 18;
  const minor = [0.1, 0.3, 0.5, 0.7, 0.9];
  const svg = Plot.plot({width: R - L + mL + mR, height: B - T + mT + mB, marginLeft: mL, marginRight: mR, marginTop: mT, marginBottom: mB, style: S,
    x: {domain: [-0.05, 1.05], ticks: roc_ticks, tickFormat: d3.format('.1f'), tickSize: 3, tickPadding: 6, label: null},
    y: {domain: [-0.05, 1.05], ticks: roc_ticks, tickFormat: d3.format('.1f'), tickSize: 3, tickPadding: 8, label: null},
    marks: [
      Plot.ruleX(minor, {stroke: '#e4e4e4', strokeWidth: 0.6}),
      Plot.ruleY(minor, {stroke: '#e4e4e4', strokeWidth: 0.6}),
      Plot.ruleX(roc_ticks, {stroke: '#cfcfcf', strokeWidth: 1}),
      Plot.ruleY(roc_ticks, {stroke: '#cfcfcf', strokeWidth: 1}),
      Plot.line([[0, 0], [1, 1]], {x: d => d[0], y: d => d[1], stroke: '#222', strokeWidth: 0.6}),
      Plot.line(roc5, {x: d => d[0], y: d => d[1], curve: 'step-after', stroke: '#1c6b45', strokeWidth: 1}),
      Plot.line(roc3, {x: d => d[0], y: d => d[1], curve: 'step-after', stroke: '#e8231c', strokeWidth: 1}),
      Plot.line(roc1, {x: d => d[0], y: d => d[1], curve: 'step-after', stroke: '#1b8db3', strokeWidth: 1}),
      Plot.frame({stroke: '#333', strokeWidth: 1})
    ]});
  place(svg, L - mL, T - mT);
  txt('Sensitivity (TPR)', 461, 1523, {rot: true, size: 5.5});
  txt('1 - specificity (FPR)', 546, 1611, {size: 5.5});
  txt('SORT1', 534, 1628, {size: 5.5});
  bar(497, 1642.4, 27, 1.3, '#1b8db3');
  txt(roc_labels[0], 534, 1643, {anchor: 'start', size: 5.5});
  bar(497, 1659.4, 27, 1.3, '#e8231c');
  txt(roc_labels[1], 534, 1660, {anchor: 'start', size: 5.5});
}
</script></body></html>
